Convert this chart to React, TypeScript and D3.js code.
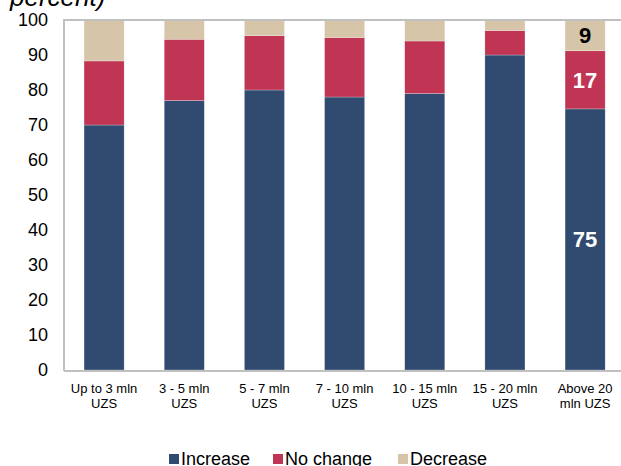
import React from "react";
import * as d3 from "d3";

const categories = ["Up to 3 mln UZS", "3 - 5 mln UZS", "5 - 7 mln UZS", "7 - 10 mln UZS", "10 - 15 mln UZS", "15 - 20 mln UZS", "Above 20 mln UZS"];
const categoryLines = [
  ["Up to 3 mln", "UZS"],
  ["3 - 5 mln", "UZS"],
  ["5 - 7 mln", "UZS"],
  ["7 - 10 mln", "UZS"],
  ["10 - 15 mln", "UZS"],
  ["15 - 20 mln", "UZS"],
  ["Above 20", "mln UZS"],
];
const increase = [70, 77, 80, 78, 79, 90, 74.6];
const noChange = [18.3, 17.5, 15.5, 17, 15, 7, 16.6];
const decrease = [11.7, 5.5, 4.5, 5, 6, 3, 8.8];
const seriesNames = ["Increase", "No change", "Decrease"];
const seriesColors = ["#304B6F", "#BF3553", "#D6C5A9"];
const yTicks = [0, 10, 20, 30, 40, 50, 60, 70, 80, 90, 100];
const labelledIndex = 6;
const labelColors = ["#ffffff", "#ffffff", "#000000"];

export default function App() {
  React.useEffect(() => {
    document.body.style.margin = "0";
  }, []);
  const W = 621, H = 466;
  const left = 64, right = 625.2, top = 20, bottom = 370;
  const x = d3.scaleBand<string>().domain(categories).range([left, right]).paddingInner(0.5).paddingOuter(0.25);
  const y = d3.scaleLinear().domain([0, 100]).range([bottom, top]);
  const rows = categories.map((c, i) => ({ cat: c, Increase: increase[i], "No change": noChange[i], Decrease: decrease[i] }));
  const stacked = d3.stack<any>().keys(seriesNames)(rows);
  const legendX = [169, 273, 398];
  const font = "'Liberation Sans', Arial, sans-serif";
  return (
    <svg width={W} height={H} style={{ position: "absolute", left: 0, top: 0, background: "#fff" }} fontFamily={font}>
      <text x={10} y={6} fontSize={26} fontStyle="italic" fill="#000">percent)</text>
      {stacked.map((layer, si) => (
        <g key={si} fill={seriesColors[si]}>
          {layer.map((d, i) => (
            <rect key={i} x={x(categories[i])!} width={x.bandwidth()} y={y(d[1])} height={y(d[0]) - y(d[1])} stroke="#ffffff" strokeOpacity={0.5} strokeWidth={0.5} />
          ))}
        </g>
      ))}
      {stacked.map((layer, si) => {
        const d = layer[labelledIndex];
        const v = d[1] - d[0];
        return (
          <text key={si} x={x(categories[labelledIndex])! + x.bandwidth() / 2} y={(y(d[0]) + y(d[1])) / 2} dy="0.36em" textAnchor="middle" fontSize={22} fontWeight="bold" fill={labelColors[si]}>
            {Math.round(v)}
          </text>
        );
      })}
      <line x1={left} x2={W} y1={top} y2={top} stroke="#C0C0C0" strokeWidth={2} />
      <line x1={left} x2={left} y1={top - 1} y2={bottom + 1} stroke="#C0C0C0" strokeWidth={2} />
      <line x1={left} x2={W} y1={bottom + 1} y2={bottom + 1} stroke="#C0C0C0" strokeWidth={2} />
      {yTicks.map((t) => (
        <text key={t} x={48} y={y(t)} dy="0.36em" textAnchor="end" fontSize={18} fill="#000">{t}</text>
      ))}
      {categoryLines.map((lines, i) => (
        <text key={i} textAnchor="middle" fontSize={13} fill="#000">
          {lines.map((l, j) => (
            <tspan key={j} x={x(categories[i])! + x.bandwidth() / 2} y={393 + j * 15}>{l}</tspan>
          ))}
        </text>
      ))}
      {seriesNames.map((s, i) => (
        <g key={s}>
          <rect x={legendX[i]} y={454} width={10} height={10} fill={seriesColors[i]} />
          <text x={legendX[i] + 12} y={465} fontSize={18} fill="#000">{s}</text>
        </g>
      ))}
    </svg>
  );
}
